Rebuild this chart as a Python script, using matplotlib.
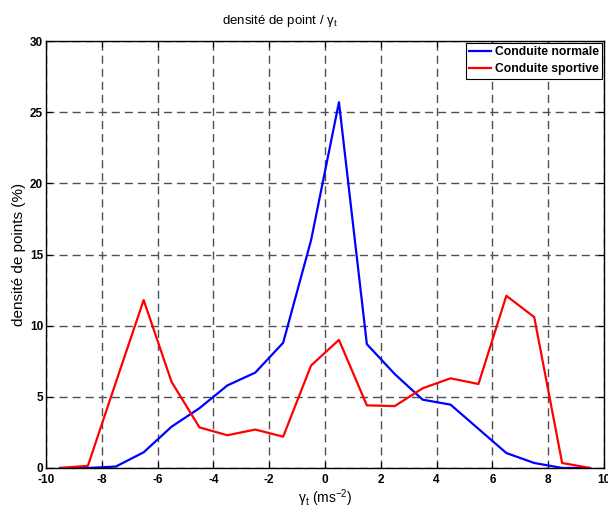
import matplotlib
matplotlib.use('Agg')
import matplotlib.pyplot as plt

plt.rcParams['font.family'] = ['Liberation Sans', 'DejaVu Sans']
plt.rcParams['axes.unicode_minus'] = False
plt.rcParams['mathtext.fontset'] = 'custom'
plt.rcParams['mathtext.rm'] = 'Liberation Sans'
plt.rcParams['mathtext.it'] = 'Liberation Sans'

# bin centres (ms^-2)
x = [-9.5, -8.5, -7.5, -6.5, -5.5, -4.5, -3.5, -2.5, -1.5, -0.5,
     0.5, 1.5, 2.5, 3.5, 4.5, 5.5, 6.5, 7.5, 8.5, 9.5]
normale = [0.0, 0.0, 0.1, 1.1, 2.9, 4.2, 5.8, 6.7, 8.8, 16.0,
           25.7, 8.7, 6.6, 4.8, 4.45, 2.75, 1.05, 0.35, 0.0, 0.0]
sportive = [0.0, 0.15, 6.0, 11.8, 6.05, 2.85, 2.3, 2.7, 2.2, 7.2,
            9.0, 4.4, 4.35, 5.6, 6.3, 5.9, 12.1, 10.6, 0.35, 0.0]
xticks = [-10, -8, -6, -4, -2, 0, 2, 4, 6, 8, 10]
yticks = [0, 5, 10, 15, 20, 25, 30]

fig = plt.figure(figsize=(6.08, 5.09), dpi=100)
ax = fig.add_axes([0.0757, 0.0806, 0.9177, 0.8388])

ax.plot(x, normale, color='#0000ff', lw=1.6, label='Conduite normale')
ax.plot(x, sportive, color='#ff0000', lw=1.6, label='Conduite sportive')

ax.set_xlim(-10, 10)
ax.set_ylim(0, 30)
ax.set_xticks(xticks)
ax.set_yticks(yticks)
ax.grid(True, color='#505050', linestyle=(0, (5.8, 3.6)), linewidth=1.0)
ax.tick_params(direction='in', top=True, right=True, length=4, width=0.8,
               labelsize=8.5)
ax.tick_params(axis='x', pad=4)
ax.tick_params(axis='y', pad=2)
for lab in ax.get_xticklabels() + ax.get_yticklabels():
    lab.set_fontweight('bold')
for s in ax.spines.values():
    s.set_linewidth(1.0)

ax.set_title(r'densité de point / $\mathregular{\gamma_t}$', fontsize=9.5,
             x=0.42, pad=12)
ax.set_xlabel(r'$\mathregular{\gamma_t}$ (ms$^{\mathregular{-2}}$)', fontsize=10, labelpad=1)
ax.set_ylabel('densité de points (%)', fontsize=11, labelpad=3)

leg = ax.legend(loc='upper right', prop={'weight': 'bold', 'size': 8.7},
                fancybox=False, framealpha=1, edgecolor='black',
                handlelength=1.8, handletextpad=0.3, borderpad=0.3,
                labelspacing=0.4, borderaxespad=0.15)
leg.get_frame().set_linewidth(0.8)

fig.savefig('out.png', dpi=100)
